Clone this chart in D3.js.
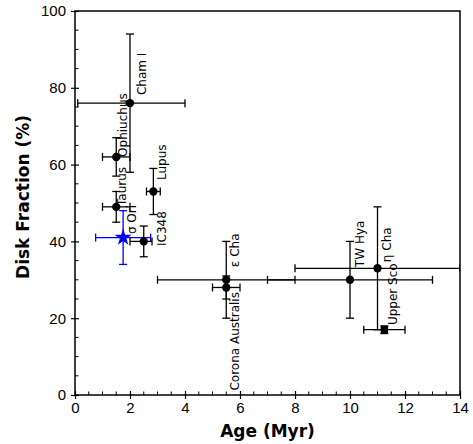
<!DOCTYPE html>
<html>
<head>
<meta charset="utf-8">
<script src="https://cdn.jsdelivr.net/npm/d3@7"></script>
<style>
  body { margin: 0; background: #fff; }
  svg { font-family: "DejaVu Sans", sans-serif; }
</style>
</head>
<body>
<div id="chart"></div>
<script>
const margin = { top: 11, right: 13, bottom: 49, left: 75 };
const width = 473 - margin.left - margin.right;
const height = 444 - margin.top - margin.bottom;

// star-forming regions
const regions = ["Cham I", "Ophiuchus", "Taurus", "Lupus", "σ Ori", "IC348",
  "Corona Australis", "ε Cha", "TW Hya", "η Cha", "Upper Sco"];
const ages = [2.0, 1.5, 1.5, 2.85, 1.75, 2.5, 5.5, 5.5, 10, 11, 11.25];
const ageErrLo = [1.9, 0.5, 0.5, 0.25, 1.0, 0.5, 0.5, 2.5, 3, 3, 0.75];
const ageErrHi = [2.0, 0.5, 0.5, 0.25, 1.0, 0.3, 0.5, 2.5, 3, 3, 0.75];
const diskFrac = [76, 62, 49, 53, 41, 40, 28, 30, 30, 33, 17];
const fracErr = [18, 5, 4, 6, 7, 4, 3, 10, 10, 16, 1];
const markers = ["circle", "circle", "circle", "circle", "star", "circle",
  "circle", "circle", "circle", "circle", "square"];

// where each name is written (data units), "start" = text begins there going up
const labelAge = [2.44, 1.75, 1.71, 3.16, 2.07, 3.16, 5.82, 5.82, 10.36, 11.35, 11.56];
const labelFrac = [78.1, 62, 49.2, 56, 41.9, 38.8, 26.8, 33.3, 33.3, 34.6, 18.2];
const labelAnchor = ["start", "start", "start", "start", "start", "start",
  "end", "start", "start", "start", "start"];

const xTicks = [0, 2, 4, 6, 8, 10, 12, 14];
const yTicks = [0, 20, 40, 60, 80, 100];

const data = regions.map((name, i) => ({
  name: name,
  age: ages[i],
  lo: ageErrLo[i],
  hi: ageErrHi[i],
  frac: diskFrac[i],
  ferr: fracErr[i],
  marker: markers[i],
  lx: labelAge[i],
  ly: labelFrac[i],
  anchor: labelAnchor[i]
}));

const svg = d3.select("#chart").append("svg")
  .attr("width", 473)
  .attr("height", 444)
  .append("g")
  .attr("transform", `translate(${margin.left},${margin.top})`);

const x = d3.scaleLinear().domain([0, 14]).range([0, width]);
const y = d3.scaleLinear().domain([0, 100]).range([height, 0]);

svg.append("defs").append("clipPath").attr("id", "plot")
  .append("rect").attr("width", width).attr("height", height);

// minor ticks, pointing inside
const minorX = d3.range(0, 14.01, 0.5).filter(v => v % 2 !== 0);
const minorY = d3.range(0, 100.1, 5).filter(v => v % 20 !== 0);

svg.append("g")
  .selectAll("line").data(minorX).enter().append("line")
  .attr("x1", d => x(d)).attr("x2", d => x(d))
  .attr("y1", height).attr("y2", height - 3.5)
  .attr("stroke", "#000").attr("stroke-width", 1);

svg.append("g")
  .selectAll("line").data(minorY).enter().append("line")
  .attr("y1", d => y(d)).attr("y2", d => y(d))
  .attr("x1", 0).attr("x2", 3.5)
  .attr("stroke", "#000").attr("stroke-width", 1);

// major ticks cross the axis line
const xAxis = svg.append("g")
  .attr("transform", `translate(0,${height})`)
  .call(d3.axisBottom(x).tickValues(xTicks).tickSize(4).tickPadding(3));
xAxis.selectAll(".tick line").attr("y1", -4).attr("stroke-width", 1.2);
xAxis.selectAll("text").style("font-size", "15px").attr("fill", "#000");
xAxis.select(".domain").remove();

const yAxis = svg.append("g")
  .call(d3.axisLeft(y).tickValues(yTicks).tickSize(4).tickPadding(5));
yAxis.selectAll(".tick line").attr("x1", 4).attr("stroke-width", 1.2);
yAxis.selectAll("text").style("font-size", "15px").attr("fill", "#000");
yAxis.select(".domain").remove();

// error bars
const cap = 4;
const bars = svg.append("g").attr("clip-path", "url(#plot)")
  .selectAll("g").data(data).enter().append("g")
  .attr("stroke", d => d.marker === "star" ? "#0000ff" : "#000")
  .attr("stroke-width", 1.3)
  .attr("fill", "none");

bars.append("line")
  .attr("x1", d => x(d.age - d.lo)).attr("x2", d => x(d.age + d.hi))
  .attr("y1", d => y(d.frac)).attr("y2", d => y(d.frac));
bars.append("line")
  .attr("x1", d => x(d.age)).attr("x2", d => x(d.age))
  .attr("y1", d => y(d.frac - d.ferr)).attr("y2", d => y(d.frac + d.ferr));
[d => x(d.age - d.lo), d => x(d.age + d.hi)].forEach(fx => {
  bars.append("line")
    .attr("x1", fx).attr("x2", fx)
    .attr("y1", d => y(d.frac) - cap).attr("y2", d => y(d.frac) + cap);
});
[d => y(d.frac - d.ferr), d => y(d.frac + d.ferr)].forEach(fy => {
  bars.append("line")
    .attr("y1", fy).attr("y2", fy)
    .attr("x1", d => x(d.age) - cap).attr("x2", d => x(d.age) + cap);
});

// markers
const symbolOf = { circle: d3.symbolCircle, star: d3.symbolStar, square: d3.symbolSquare };
const sizeOf = { circle: 55, star: 90, square: 55 };
svg.append("g")
  .selectAll("path").data(data).enter().append("path")
  .attr("transform", d => `translate(${x(d.age)},${y(d.frac)})`)
  .attr("d", d => d3.symbol(symbolOf[d.marker], sizeOf[d.marker])())
  .attr("fill", d => d.marker === "star" ? "#0000ff" : "#000");

// region names, written vertically
svg.append("g")
  .selectAll("text").data(data).enter().append("text")
  .attr("transform", d => `translate(${x(d.lx)},${y(d.ly)}) rotate(-90)`)
  .attr("dy", "0.35em")
  .attr("text-anchor", d => d.anchor)
  .style("font-size", "12px")
  .attr("fill", "#000")
  .text(d => d.name);

// frame
svg.append("rect")
  .attr("width", width).attr("height", height)
  .attr("fill", "none").attr("stroke", "#000").attr("stroke-width", 1.5);

svg.append("text")
  .attr("x", width / 2)
  .attr("y", height + 42)
  .attr("text-anchor", "middle")
  .style("font-size", "17px")
  .style("font-weight", "bold")
  .text("Age (Myr)");

svg.append("text")
  .attr("transform", "rotate(-90)")
  .attr("x", -height / 2 + 6)
  .attr("y", -46)
  .attr("text-anchor", "middle")
  .style("font-size", "17px")
  .style("font-weight", "bold")
  .text("Disk Fraction (%)");
</script>
</body>
</html>
